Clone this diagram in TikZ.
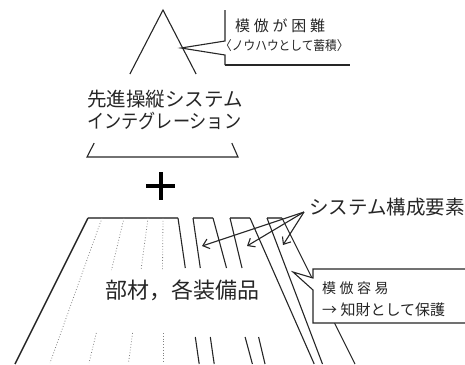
\documentclass[tikz,border=0pt]{standalone}
\usepackage{fontspec}
\usetikzlibrary{arrows.meta}
\newfontfamily\jp{Noto Sans CJK JP}
\newfontfamily\jpls[LetterSpace=25]{Noto Sans CJK JP}
\newcommand{\fsz}[1]{\fontsize{#1}{#1}\selectfont}
\begin{document}
\begin{tikzpicture}[x=1pt,y=-1pt,
  edge/.style={draw=black!85,line width=1.1pt},
  topedge/.style={draw=black!60,line width=1.8pt},
  dots/.style={draw=black!50,dotted,line width=0.8pt},
  arr/.style={draw=black!85,line width=1.1pt,-{Straight Barb[length=6pt,width=10pt]}},
  plus/.style={draw=black,line width=3.3pt},
  txt/.style={inner sep=0pt,anchor=west,text=black!85}]
\useasboundingbox (0,0) rectangle (465,364);
% top triangle
\draw[edge] (129.9,74) -- (163,10) -- (196.1,74);
\draw[edge] (94.2,143) -- (87,157) -- (238,157) -- (231.8,143);
\node[txt] (ti1) at (87,99) {\jp\fsz{19.5}先進操縦システム};
\node[txt] (ti2) at (87,121) {\jp\fsz{19.5}\scalebox{0.88}[1]{インテグレーション}};
% top callout
\draw[edge] (225,10) -- (225,41) -- (181,48) -- (225,55) -- (225,65);
\draw[draw=black!85,line width=1.4pt] (225,65) -- (350,65);
\node[txt] (c1a) at (235,26) {\jpls\fsz{15}模倣が困難};
\node[txt] (c1b) at (220,46) {\jp\fsz{13}\scalebox{0.9}[1]{〈ノウハウとして蓄積〉}};
% plus
\draw[plus] (146,186) -- (175,186);
\draw[plus] (161,172) -- (161,200);
% main block
\draw[topedge] (88,218) -- (178,218);
\draw[edge,line width=1.4pt] (88,218) -- (15,364);
\draw[edge] (178,218) -- (185.3,268);
\draw[edge] (195.3,337) -- (199.2,364);
% dotted lines
\draw[dots] (102,218) -- (50,363);
\draw[dots] (124,218) -- (111.5,270);
\draw[dots] (96.3,333) -- (89,363);
\draw[dots] (148,218) -- (141,270);
\draw[dots] (132.6,333) -- (128.5,363);
\draw[dots] (163,218) -- (162.5,270);
\draw[dots] (163,333) -- (163,363);
% strips
\draw[topedge] (193,218) -- (213,218);
\draw[topedge] (230,218) -- (250,218);
\draw[topedge] (267,218) -- (282,218);
\draw[edge] (193,218) -- (200.3,268);
\draw[edge] (210.3,337) -- (214.2,364);
\draw[edge] (213,218) -- (226.5,268);
\draw[edge] (245.1,337) -- (252.4,364);
\draw[edge] (230,218) -- (242,268);
\draw[edge] (258.6,337) -- (265,364);
\draw[edge] (250,218) -- (314.2,364);
\draw[edge] (267,218) -- (322.5,364);
\draw[edge] (282,218) -- (355,364);
\node[txt] (parts) at (105,290) {\jp\fsz{22}部材，各装備品};
% system elements label and arrows
\node[txt] (sys) at (309,207) {\jp\fsz{19.5}システム構成要素};
\coordinate (src) at (304,212);
\coordinate (t1) at (202,246);
\coordinate (t2) at (247,246);
\coordinate (t3) at (283,245);
\draw[arr] (src) -- (t1);
\draw[arr] (src) -- (t2);
\draw[arr] (src) -- (t3);
% right callout
\path[fill=white,draw=black!85,line width=1.1pt] (466,269) -- (313,269) -- (313,278) -- (293,272) -- (313,290) -- (313,323) -- (466,323);
\node[txt] (c2a) at (322,288) {\jpls\fsz{14}模倣容易};
\node[txt] (c2b) at (322,310) {\jp\fsz{15}→ 知財として保護};
\end{tikzpicture}
\end{document}
